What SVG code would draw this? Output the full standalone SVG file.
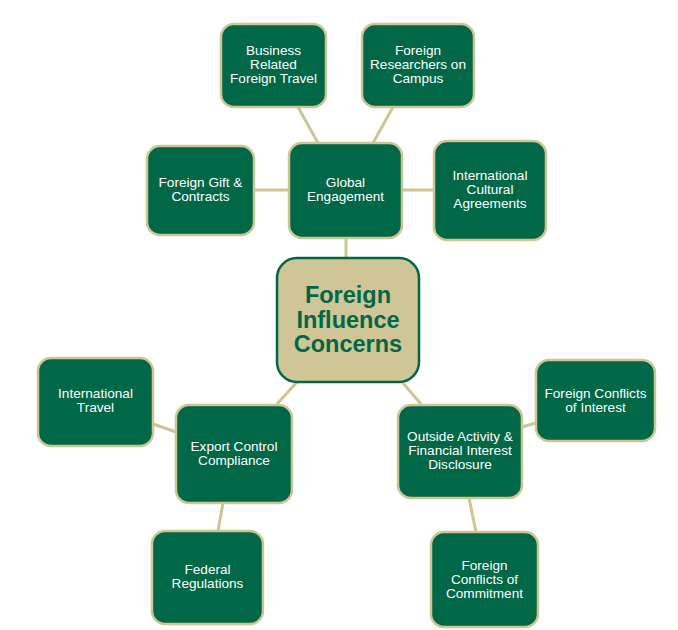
<svg xmlns="http://www.w3.org/2000/svg" width="678" height="630" viewBox="0 0 678 630">
<style>
.n{fill:#006747;stroke:#CFC493;stroke-width:2.5}
.t{font-family:"Liberation Sans",Arial,sans-serif;font-size:13.6px;fill:#ffffff;text-anchor:middle}
.c{fill:none;stroke:#CFC493;stroke-width:3}
.ct{font-family:"Liberation Sans",Arial,sans-serif;font-size:23.5px;font-weight:bold;fill:#006747;text-anchor:middle}
</style>
<rect width="678" height="630" fill="#ffffff"/>
<g id="connectors">
<line class="c" x1="346" y1="238" x2="346" y2="259"/>
<line class="c" x1="298" y1="107" x2="318" y2="143"/>
<line class="c" x1="393" y1="107" x2="373" y2="143"/>
<line class="c" x1="254" y1="190" x2="289" y2="190"/>
<line class="c" x1="402" y1="190" x2="434" y2="190"/>
<line class="c" x1="297" y1="382" x2="277" y2="404"/>
<line class="c" x1="153" y1="424" x2="176" y2="432"/>
<line class="c" x1="223" y1="503" x2="218" y2="531"/>
<line class="c" x1="402" y1="382" x2="421" y2="404"/>
<line class="c" x1="522" y1="427" x2="536" y2="423"/>
<line class="c" x1="469" y1="498" x2="476" y2="532"/>
</g>
<g id="center">
<rect x="277" y="258" width="142" height="124" rx="20" fill="#CFC597" stroke="#006747" stroke-width="2.5"/>
<text class="ct" x="348" y="303">Foreign</text>
<text class="ct" x="348" y="328">Influence</text>
<text class="ct" x="348" y="352">Concerns</text>
</g>
<g id="business-travel">
<rect class="n" x="221" y="24" width="105" height="83" rx="13"/>
<text class="t" x="273.5" y="55">Business</text>
<text class="t" x="273.5" y="69">Related</text>
<text class="t" x="273.5" y="83">Foreign Travel</text>
</g>
<g id="foreign-researchers">
<rect class="n" x="362" y="24" width="112" height="83" rx="13"/>
<text class="t" x="418" y="55">Foreign</text>
<text class="t" x="418" y="69">Researchers on</text>
<text class="t" x="418" y="83">Campus</text>
</g>
<g id="foreign-gift">
<rect class="n" x="147" y="146" width="107" height="89" rx="13"/>
<text class="t" x="200.5" y="187">Foreign Gift &amp;</text>
<text class="t" x="200.5" y="201">Contracts</text>
</g>
<g id="global-engagement">
<rect class="n" x="289" y="143" width="113" height="95" rx="13"/>
<text class="t" x="345.5" y="187">Global</text>
<text class="t" x="345.5" y="201">Engagement</text>
</g>
<g id="intl-cultural">
<rect class="n" x="434" y="141" width="112" height="99" rx="13"/>
<text class="t" x="490" y="180">International</text>
<text class="t" x="490" y="194">Cultural</text>
<text class="t" x="490" y="208">Agreements</text>
</g>
<g id="intl-travel">
<rect class="n" x="38" y="358" width="115" height="88" rx="13"/>
<text class="t" x="95.5" y="398">International</text>
<text class="t" x="95.5" y="412">Travel</text>
</g>
<g id="export-control">
<rect class="n" x="176" y="405" width="116" height="98" rx="13"/>
<text class="t" x="234" y="451">Export Control</text>
<text class="t" x="234" y="465">Compliance</text>
</g>
<g id="federal-regulations">
<rect class="n" x="152" y="531" width="111" height="93" rx="13"/>
<text class="t" x="207.5" y="574">Federal</text>
<text class="t" x="207.5" y="588">Regulations</text>
</g>
<g id="outside-activity">
<rect class="n" x="398" y="405" width="124" height="93" rx="13"/>
<text class="t" x="460" y="441">Outside Activity &amp;</text>
<text class="t" x="460" y="455">Financial Interest</text>
<text class="t" x="460" y="469">Disclosure</text>
</g>
<g id="conflicts-interest">
<rect class="n" x="536" y="360" width="119" height="81" rx="13"/>
<text class="t" x="595.5" y="398">Foreign Conflicts</text>
<text class="t" x="595.5" y="412">of Interest</text>
</g>
<g id="conflicts-commitment">
<rect class="n" x="431" y="532" width="107" height="95" rx="13"/>
<text class="t" x="484.5" y="570">Foreign</text>
<text class="t" x="484.5" y="584">Conflicts of</text>
<text class="t" x="484.5" y="598">Commitment</text>
</g>
</svg>
